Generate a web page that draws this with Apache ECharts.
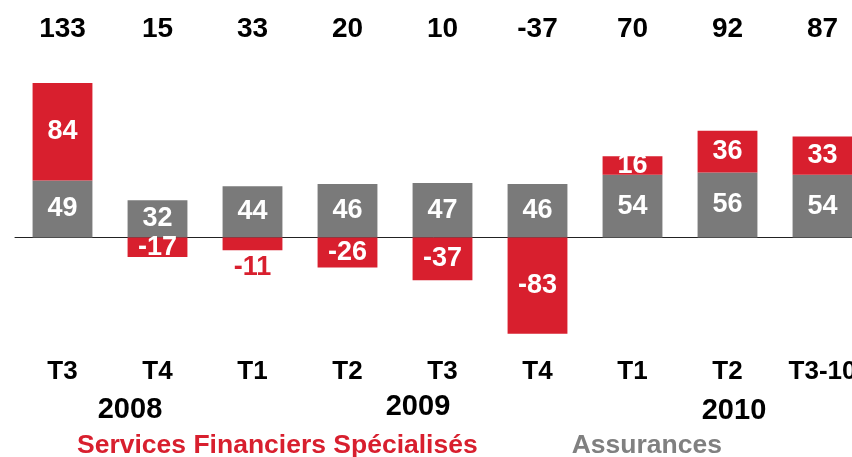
<!DOCTYPE html>
<html>
<head>
<meta charset="utf-8">
<script src="https://cdn.jsdelivr.net/npm/echarts@6/dist/echarts.min.js"></script>
<style>
  html, body { margin: 0; padding: 0; background: #fff; }
  #chart { width: 852px; height: 457px; }
</style>
</head>
<body>
<div id="chart"></div>
<script>
// data
const quarters = ["T3", "T4", "T1", "T2", "T3", "T4", "T1", "T2", "T3-10"];
const totals = [133, 15, 33, 20, 10, -37, 70, 92, 87];
const assurances = [49, 32, 44, 46, 47, 46, 54, 56, 54];
const services = [84, -17, -11, -26, -37, -83, 16, 36, 33];
const years = ["2008", "2009", "2010"];

const RED = "#d81f2e";
const GREY = "#7a7a7a";
const FONT = "'Liberation Sans', Arial, sans-serif";

const chart = echarts.init(document.getElementById("chart"));

// small red segments get their label below the bar
const serviceData = services.map(v =>
  Math.abs(v) < 12
    ? { value: v, label: { position: "bottom", color: RED, distance: 4 } }
    : v
);

const yearX = [130, 418, 734];
const yearY = [410, 407, 411];

const option = {
  animation: false,
  grid: { left: 15, width: 855, top: 75, height: 278.4, outerBoundsMode: "none" },
  legend: {
    left: 67,
    top: 427,
    icon: "none",
    itemWidth: 0,
    itemGap: 89,
    selectedMode: false,
    textStyle: { fontFamily: FONT, fontWeight: "bold", fontSize: 26.5 },
    data: [
      { name: "Services Financiers Spécialisés", textStyle: { color: RED } },
      { name: "Assurances", textStyle: { color: "#808080" } }
    ]
  },
  xAxis: [
    {
      type: "category",
      data: quarters,
      axisLine: { onZero: true, lineStyle: { color: "#222", width: 1 } },
      axisTick: { show: false },
      axisLabel: { show: false }
    },
    {
      type: "category",
      data: quarters,
      position: "bottom",
      axisLine: { show: false, onZero: false },
      axisTick: { show: false },
      axisLabel: {
        margin: 5,
        color: "#000",
        fontFamily: FONT,
        fontWeight: "bold",
        fontSize: 26
      }
    },
    {
      type: "category",
      data: totals,
      position: "top",
      axisLine: { show: false, onZero: false },
      axisTick: { show: false },
      axisLabel: {
        margin: 32,
        color: "#000",
        fontFamily: FONT,
        fontWeight: "bold",
        fontSize: 28
      }
    }
  ],
  yAxis: { type: "value", min: -100, max: 140, show: false },
  series: [
    {
      name: "Assurances",
      type: "bar",
      stack: "total",
      barWidth: "63%",
      itemStyle: { color: GREY },
      label: {
        show: true,
        position: "inside",
        color: "#fff",
        fontFamily: FONT,
        fontWeight: "bold",
        fontSize: 27
      },
      data: assurances
    },
    {
      name: "Services Financiers Spécialisés",
      type: "bar",
      stack: "total",
      barWidth: "63%",
      itemStyle: { color: RED },
      label: {
        show: true,
        position: "inside",
        color: "#fff",
        fontFamily: FONT,
        fontWeight: "bold",
        fontSize: 27
      },
      data: serviceData
    }
  ],
  graphic: years.map((y, i) => ({
    type: "text",
    x: yearX[i],
    y: yearY[i],
    style: {
      text: y,
      fontFamily: FONT,
      fontWeight: "bold",
      fontSize: 29,
      fill: "#000",
      align: "center",
      verticalAlign: "middle"
    }
  }))
};

chart.setOption(option);
</script>
</body>
</html>
